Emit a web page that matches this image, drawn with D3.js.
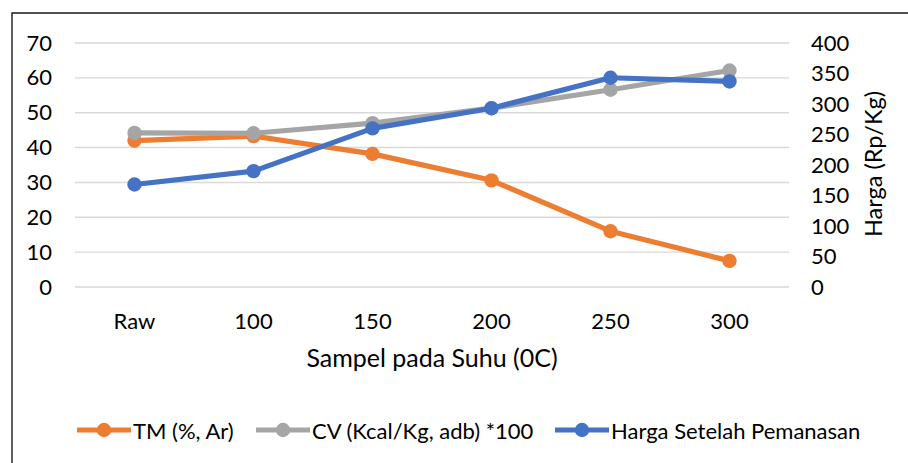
<!DOCTYPE html>
<html>
<head>
<meta charset="utf-8">
<script src="https://cdn.jsdelivr.net/npm/d3@7"></script>
<style>
  html, body { margin: 0; padding: 0; background: #fff; }
  svg { display: block; }
  text { font-family: Lato, "Liberation Sans", sans-serif; fill: #000; }
</style>
</head>
<body>
<svg id="chart" width="908" height="463"></svg>
<script>
// Sample temperatures (x categories)
const categories = ["Raw", "100", "150", "200", "250", "300"];
// Total moisture, % as received (left axis)
const tmValues = [42.0, 43.3, 38.2, 30.6, 16.0, 7.5];
// Calorific value, Kcal/Kg adb divided by 100 (left axis)
const cvValues = [44.2, 44.1, 47.0, 51.3, 56.6, 62.1];
// Price after heating, Rp/Kg (right axis)
const hargaValues = [168, 190, 260, 293, 343, 337];
// Axis ticks
const leftTicks = [0, 10, 20, 30, 40, 50, 60, 70];
const rightTicks = [0, 50, 100, 150, 200, 250, 300, 350, 400];

const svg = d3.select("#chart");
const W = 908, H = 463;
const plot = { left: 75, right: 789, top: 43, bottom: 287 };
const tickSize = 22;
const legendSize = 22;
const markerR = 7.2;

// Outer frame (top and left edges visible)
svg.append("path")
  .attr("d", `M12,${H + 2} L12,13 L${W + 2},13`)
  .attr("fill", "none")
  .attr("stroke", "#1a1a1a")
  .attr("stroke-width", 1.4);

const x = d3.scaleBand().domain(categories).range([plot.left, plot.right]);
const yL = d3.scaleLinear().domain([0, 70]).range([plot.bottom, plot.top]);
const yR = d3.scaleLinear().domain([0, 400]).range([plot.bottom, plot.top]);

// Gridlines
svg.append("g")
  .selectAll("line")
  .data(leftTicks)
  .join("line")
  .attr("x1", plot.left).attr("x2", plot.right)
  .attr("y1", d => yL(d)).attr("y2", d => yL(d))
  .attr("stroke", "#d9d9d9")
  .attr("stroke-width", 1.4);

function styleAxis(g) {
  g.select(".domain").remove();
  g.selectAll("text").attr("font-size", tickSize).attr("font-family", null);
}

// Left axis labels
const gL = svg.append("g").attr("transform", "translate(52,0)")
  .call(d3.axisLeft(yL).tickValues(leftTicks).tickSize(0).tickPadding(0));
styleAxis(gL);

// Right axis labels
const gR = svg.append("g").attr("transform", "translate(811,0)")
  .call(d3.axisRight(yR).tickValues(rightTicks).tickSize(0).tickPadding(0));
styleAxis(gR);

// Bottom axis labels
const gB = svg.append("g").attr("transform", "translate(0,0)")
  .call(d3.axisBottom(x).tickSize(0).tickPadding(0));
styleAxis(gB);
gB.selectAll("text").attr("dy", null).attr("y", 320).attr("dominant-baseline", "central");

// Axis titles
svg.append("text")
  .attr("x", 432)
  .attr("y", 357)
  .attr("text-anchor", "middle")
  .attr("dominant-baseline", "central")
  .attr("font-size", 25)
  .text("Sampel pada Suhu (0C)");

svg.append("text")
  .attr("transform", "translate(873,164) rotate(-90)")
  .attr("text-anchor", "middle")
  .attr("dominant-baseline", "central")
  .attr("font-size", 23.5)
  .text("Harga (Rp/Kg)");

// Series
const series = [
  { name: "TM (%, Ar)", values: tmValues, scale: yL, color: "#ed7d31" },
  { name: "CV (Kcal/Kg, adb) *100", values: cvValues, scale: yL, color: "#a5a5a5" },
  { name: "Harga Setelah Pemanasan", values: hargaValues, scale: yR, color: "#4472c4" }
];

const cx = c => x(c) + x.bandwidth() / 2;

series.forEach(s => {
  const pts = categories.map((c, i) => [cx(c), s.scale(s.values[i])]);
  svg.append("path")
    .attr("d", d3.line()(pts))
    .attr("fill", "none")
    .attr("stroke", s.color)
    .attr("stroke-width", 5.2)
    .attr("stroke-linejoin", "round")
    .attr("stroke-linecap", "round");
  svg.append("g")
    .selectAll("circle")
    .data(pts)
    .join("circle")
    .attr("cx", d => d[0]).attr("cy", d => d[1])
    .attr("r", markerR)
    .attr("fill", s.color);
});

// Legend
const legendY = 430;
const legendX = [77, 256, 555];
series.forEach((s, i) => {
  const g = svg.append("g").attr("transform", `translate(${legendX[i]},${legendY})`);
  g.append("line")
    .attr("x1", 0).attr("x2", 54)
    .attr("stroke", s.color).attr("stroke-width", 5.2);
  g.append("circle").attr("cx", 27).attr("r", markerR).attr("fill", s.color);
  g.append("text")
    .attr("x", 56)
    .attr("dominant-baseline", "central")
    .attr("font-size", legendSize)
    .text(s.name);
});
</script>
</body>
</html>
